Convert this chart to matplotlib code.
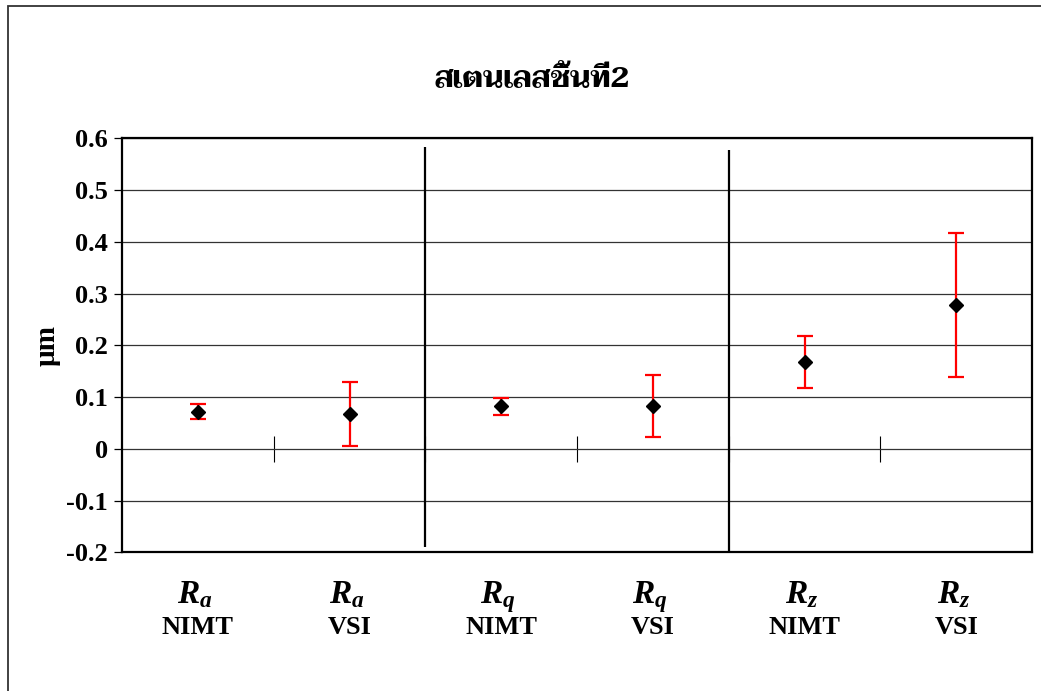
import matplotlib
matplotlib.use("Agg")
import matplotlib.pyplot as plt
from matplotlib import font_manager as fm
from matplotlib.patches import Rectangle
import numpy as np

# surface roughness, stainless sample no. 2
params = ['a', 'a', 'q', 'q', 'z', 'z']
instruments = ['NIMT', 'VSI', 'NIMT', 'VSI', 'NIMT', 'VSI']
means = [0.072, 0.067, 0.082, 0.082, 0.168, 0.278]
errs = [0.015, 0.062, 0.017, 0.060, 0.050, 0.139]
title = 'สเตนเลสชิ้นที่2'
ylabel = 'µm'
yticks = [-0.2, -0.1, 0, 0.1, 0.2, 0.3, 0.4, 0.5, 0.6]

plt.rcParams['font.family'] = 'Liberation Serif'
plt.rcParams['font.weight'] = 'bold'
plt.rcParams['mathtext.fontset'] = 'custom'
plt.rcParams['mathtext.rm'] = 'Liberation Serif:bold'
plt.rcParams['mathtext.it'] = 'Liberation Serif:italic:bold'
plt.rcParams['mathtext.bf'] = 'Liberation Serif:bold'


def thai_font():
    for name in ['Taviraj', 'Trirong', 'Pridi', 'Maitree', 'Sarabun', 'Krub',
                 'Niramit', 'Thasadith', 'KoHo', 'Fahkwang', 'Chonburi',
                 'Anuphan']:
        try:
            fm.findfont(fm.FontProperties(family=name), fallback_to_default=False)
            return name
        except ValueError:
            pass
    return 'DejaVu Sans'


fig = plt.figure(figsize=(10.41, 6.91), dpi=100)
ax = fig.add_axes([0.1172, 0.2007, 0.8742, 0.5992])

x = np.arange(len(means))
ax.errorbar(x, means, yerr=errs, fmt='D', color='black', ms=7,
            ecolor='red', elinewidth=1.6, capsize=5.5, capthick=1.6, zorder=4)

ax.set_xlim(-0.5, len(means) - 0.5)
ax.set_ylim(yticks[0], yticks[-1])
ax.set_yticks(yticks)
ax.set_yticklabels(['%g' % v for v in yticks])
ax.yaxis.grid(True, color='#333333', lw=0.9)
ax.set_axisbelow(True)
ax.tick_params(axis='y', direction='out', length=6, width=0.9, pad=4,
               labelsize=19)
ax.set_xticks([])
for s in ax.spines.values():
    s.set_linewidth(1.6)
    s.set_color('black')
ax.set_ylabel(ylabel, fontsize=21, fontweight='bold')
ax.yaxis.set_label_coords(-0.068, 0.5)

# category axis crossing at zero, tick marks between categories
zero_frac = (0 - yticks[0]) / (yticks[-1] - yticks[0])
sec = ax.secondary_xaxis(zero_frac)
sec.spines['bottom'].set_visible(False)
sec.set_xticks(x[:-1] + 0.5)
sec.set_xticklabels([])
sec.tick_params(direction='inout', length=19, width=0.8, color='black')

# separators between the Ra / Rq / Rz groups
ax.vlines(1.5, -0.189, 0.584, color='black', lw=1.6, zorder=3)
ax.vlines(3.5, -0.2, 0.577, color='black', lw=1.6, zorder=3)

trans = ax.get_xaxis_transform()
for xi, p, inst in zip(x, params, instruments):
    ax.text(xi - 0.02, -0.123, r'$\mathit{R}_{\mathit{%s}}$' % p, transform=trans,
            ha='center', va='baseline', fontsize=24)
    ax.text(xi, -0.197, inst, transform=trans, ha='center', va='baseline',
            fontsize=19, fontweight='bold')

fig.text(0.511, 0.884, title, ha='center', va='center', fontsize=21,
         fontweight='bold', family=[thai_font(), 'Liberation Serif'])

# chart area border
fig.add_artist(Rectangle((8 / 1041, -0.2), 1.2, 1.2 - 6 / 691,
                         transform=fig.transFigure, fill=False,
                         ec='#333333', lw=1.3))

fig.savefig('out.png', dpi=100)
